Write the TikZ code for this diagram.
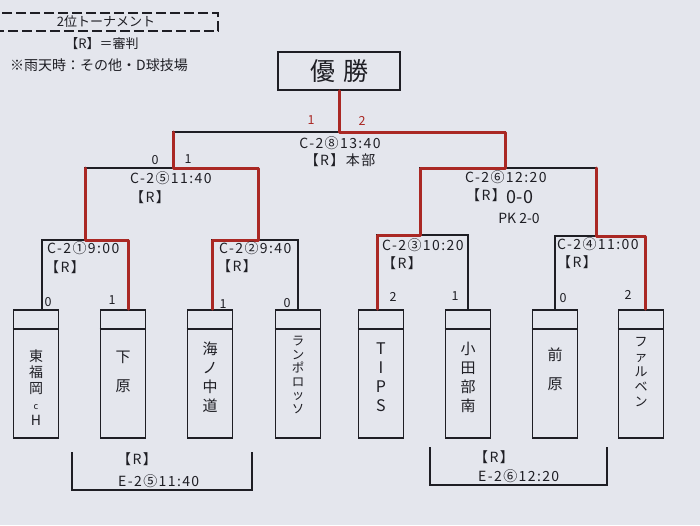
\documentclass[tikz,border=0pt]{standalone}
\usepackage{fontspec}
\setmainfont{Noto Sans CJK JP}
\newfontfamily\infofont[LetterSpace=10]{Noto Sans CJK JP}
\definecolor{paper}{RGB}{228,230,237}
\definecolor{ink}{RGB}{30,30,36}
\definecolor{redpen}{RGB}{170,40,36}
\tikzset{
 teambox/.style={draw=ink, line width=1.8pt, minimum width=45pt, minimum height=128pt, inner sep=0pt},
 bracket/.style={draw=ink, line width=1.1pt},
 win/.style={draw=redpen, line width=3pt, line join=round, line cap=round},
 info/.style={font=\infofont\fontsize{14}{16}\selectfont, text=ink, inner sep=0pt, anchor=west},
 infoc/.style={info, anchor=center},
 score/.style={font=\fontsize{12.5}{14}\selectfont, text=ink, inner sep=0pt},
 rscore/.style={score, text=redpen},
 tname/.style={font=\fontsize{15}{19}\selectfont, text=ink, align=center, inner sep=0pt},
}
\begin{document}
\begin{tikzpicture}[x=1pt,y=-1pt]
\fill[paper] (0,0) rectangle (700,525);
\useasboundingbox (0,0) rectangle (700,525);

% header
\draw[ink, line width=1.8pt, dash pattern=on 10pt off 4pt] (-2,13) rectangle (218,31);
\node[infoc, font=\fontsize{13}{14}\selectfont] (title) at (106,22) {2位トーナメント};
\node[infoc, font=\fontsize{13}{14}\selectfont] (legend) at (102,44) {【R】＝審判};
\node[info, font=\fontsize{14}{16}\selectfont] (rain) at (10,65) {※雨天時：その他・D球技場};

% champion box
\node[draw=ink, line width=1.6pt, minimum width=122pt, minimum height=38pt, inner sep=0pt,
      font=\fontsize{25}{27}\selectfont, text=ink] (champ) at (339,71) {優\hspace{8pt}勝};

% team boxes
\foreach \i/\x in {1/36,2/123,3/210,4/298,5/381,6/468,7/555,8/641}{
  \node[teambox] (t\i) at (\x,374) {};
  \draw[ink, line width=1.8pt] ([yshift=-20pt]t\i.north west) -- ([yshift=-20pt]t\i.north east);
}
\node[tname, font=\fontsize{14}{16}\selectfont] (n1) at (36,388) {東\\福\\岡\\{\fontsize{9}{10}\selectfont c}\\H};
\node[tname] (n2) at (123,372) {下\\[10pt]原};
\node[tname] (n3) at (210,377) {海\\ノ\\中\\道};
\node[tname, font=\fontsize{12.5}{13.5}\selectfont] (n4) at (298,375) {ラ\\ン\\ポ\\ロ\\ッ\\ソ};
\node[tname, font=\fontsize{16}{19}\selectfont] (n5) at (381,377) {T\\I\\P\\S};
\node[tname] (n6) at (468,377) {小\\田\\部\\南};
\node[tname] (n7) at (555,369) {前\\[10pt]原};
\node[tname, font=\fontsize{13}{15}\selectfont] (n8) at (641,372) {フ\\ァ\\ル\\ベ\\ン};

% bracket coordinates
\coordinate (m1L) at (42,240);  \coordinate (m1R) at (128,240);
\coordinate (m2L) at (212,240); \coordinate (m2R) at (298,240);
\coordinate (m3L) at (377,235); \coordinate (m3R) at (468,235);
\coordinate (m4L) at (555,236); \coordinate (m4R) at (645,236);
\coordinate (s5L) at (85,168);  \coordinate (s5R) at (258,168);
\coordinate (s6L) at (420,168); \coordinate (s6R) at (596,168);
\coordinate (fL) at (173,132);  \coordinate (fR) at (505,132);

% black bracket lines
\draw[bracket] (m1L |- t1.north) -- (m1L) -- (m1R) -- (m1R |- t2.north);
\draw[bracket] (m2L |- t3.north) -- (m2L) -- (m2R) -- (m2R |- t4.north);
\draw[bracket] (m3L |- t5.north) -- (m3L) -- (m3R) -- (m3R |- t6.north);
\draw[bracket] (m4L |- t7.north) -- (m4L) -- (m4R) -- (m4R |- t8.north);
\draw[bracket] (s5L |- m1L) -- (s5L) -- (s5R) -- (s5R |- m2L);
\draw[bracket] (s6L |- m3L) -- (s6L) -- (s6R) -- (s6R |- m4L);
\draw[bracket] (fL |- s5L) -- (fL) -- (fR) -- (fR |- s6L);
\draw[bracket] (champ.south) -- (champ.south |- fL);

% red winner marks
\draw[win] (m1R |- t2.north) -- (m1R) -- (s5L |- m1R) -- (s5L);
\draw[win] (m2L |- t3.north) -- (m2L) -- (s5R |- m2L) -- (s5R) -- (fL |- s5R) -- (fL);
\draw[win] (m3L |- t5.north) -- (m3L) -- (s6L |- m3L) -- (s6L) -- (fR |- s6L) -- (fR) -- (champ.south |- fR) -- (champ.south);
\draw[win] (m4R |- t8.north) -- (m4R) -- (s6R |- m4R) -- (s6R);

% match info
\node[infoc] (g8) at (340,143) {C-2⑧13:40};
\node[infoc] (g8r) at (340,160) {【R】本部};
\node[rscore] (f1) at (311,120) {1};
\node[rscore] (f2) at (362,121) {2};

\node[info] (g5) at (130,178) {C-2⑤11:40};
\node[info] (g5r) at (130,197) {【R】};
\node[score] (s5a) at (155,160) {0};
\node[score] (s5b) at (188,159) {1};

\node[info] (g6) at (465,177) {C-2⑥12:20};
\node[info] (g6r) at (466,195) {【R】};
\node[score, font=\fontsize{18}{20}\selectfont] (g6s) at (520,197) {0-0};
\node[score, font=\fontsize{14}{16}\selectfont] (g6pk) at (519,218) {PK 2-0};

\node[info] (g1) at (47,248) {C-2①9:00};
\node[info] (g1r) at (45,267) {【R】};
\node[score] (s1a) at (48,302) {0};
\node[score] (s1b) at (112,300) {1};

\node[info] (g2) at (219,248) {C-2②9:40};
\node[info] (g2r) at (217,266) {【R】};
\node[score] (s2a) at (223,304) {1};
\node[score] (s2b) at (287,303) {0};

\node[info] (g3) at (382,245) {C-2③10:20};
\node[info] (g3r) at (382,263) {【R】};
\node[score] (s3a) at (393,297) {2};
\node[score] (s3b) at (455,296) {1};

\node[info] (g4) at (557,244) {C-2④11:00};
\node[info] (g4r) at (557,262) {【R】};
\node[score] (s4a) at (563,298) {0};
\node[score] (s4b) at (628,295) {2};

% bottom brackets
\coordinate (bl1) at (72,452);  \coordinate (bl2) at (252,452);
\coordinate (br1) at (430,447); \coordinate (br2) at (607,447);
\draw[bracket] (bl1) -- ++(0,38) -| (bl2);
\draw[bracket] (br1) -- ++(0,38) -| (br2);
\node[info] (e5r) at (117,459) {【R】};
\node[info] (e5) at (118,481) {E-2⑤11:40};
\node[info] (e6r) at (474,457) {【R】};
\node[info] (e6) at (478,476) {E-2⑥12:20};
\end{tikzpicture}
\end{document}
